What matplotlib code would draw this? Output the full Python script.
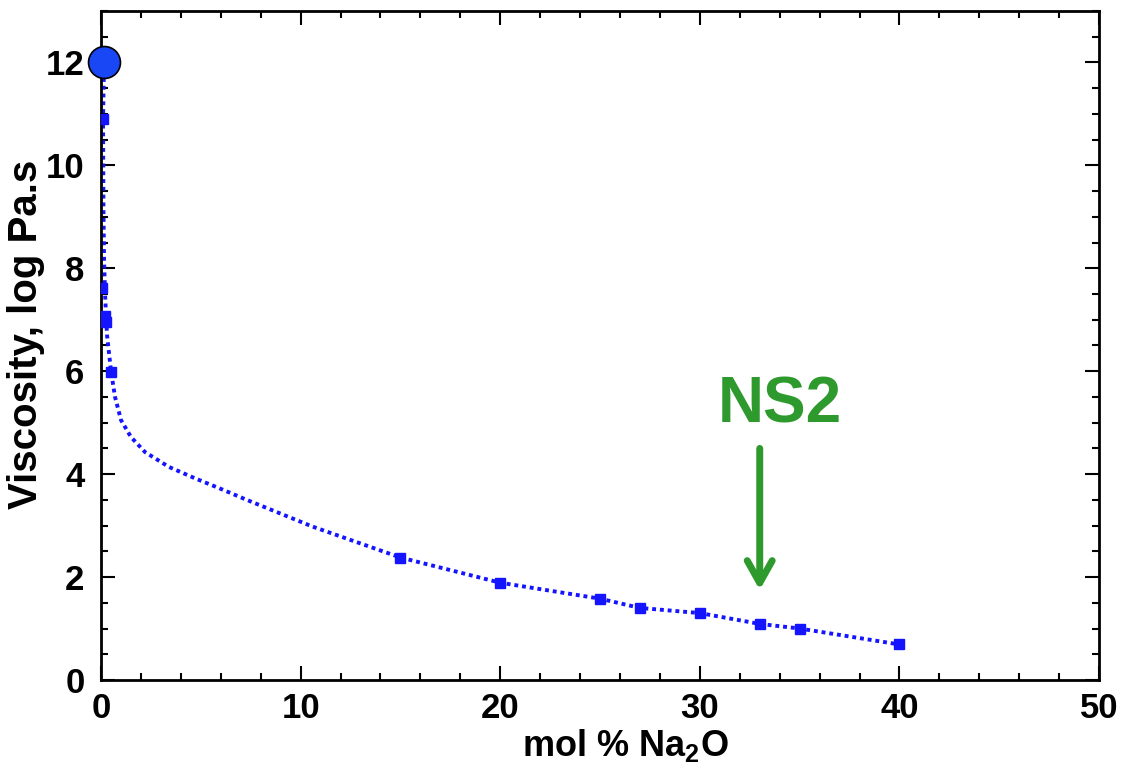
import matplotlib
matplotlib.use("Agg")
import matplotlib.pyplot as plt
from matplotlib.ticker import MultipleLocator

plt.rcParams['font.family'] = ['Liberation Sans', 'DejaVu Sans']
plt.rcParams['font.weight'] = 'bold'
plt.rcParams['mathtext.fontset'] = 'custom'
plt.rcParams['mathtext.rm'] = 'Liberation Sans:bold'
plt.rcParams['mathtext.bf'] = 'Liberation Sans:bold'
plt.rcParams['mathtext.default'] = 'bf'

# measured points (squares)
meas_x = [0.1, 0.07, 0.2, 0.25, 0.5, 15, 20, 25, 27, 30, 33, 35, 40]
meas_y = [10.9, 7.62, 7.08, 6.96, 5.98, 2.38, 1.89, 1.58, 1.40, 1.30, 1.09, 1.00, 0.69]

# dotted trend curve
curve_x = [0.15, 0.1, 0.12, 0.15, 0.2, 0.3, 0.5, 0.7, 1.0, 1.5, 2.2, 3.4, 4.7, 5.9, 7.3,
           10.6, 15, 20, 25, 27, 30, 33, 35, 40]
curve_y = [12.0, 10.9, 9.2, 8.2, 7.5, 6.7, 6.0, 5.5, 5.05, 4.72, 4.43, 4.14, 3.92, 3.73, 3.50,
           2.98, 2.38, 1.89, 1.58, 1.40, 1.30, 1.09, 1.00, 0.69]

# pure SiO2 point (big circle)
glass_x = [0.15]
glass_y = [12.0]

ns2_x = 33
ns2_label = "NS2"

fig = plt.figure(figsize=(11.24, 7.79), dpi=100)
ax = fig.add_axes([0.0899, 0.1271, 0.8879, 0.8588])

ax.plot(curve_x, curve_y, color='#1414ff', lw=2.8, linestyle=(0, (1, 1)), zorder=2)
ax.plot(meas_x, meas_y, linestyle='none', marker='s', ms=6.5, color='#1414ff', zorder=3)
ax.plot(glass_x, glass_y, linestyle='none', marker='o', ms=23, markerfacecolor='#1a47f5',
        markeredgecolor='black', markeredgewidth=1.2, zorder=4, clip_on=False)

ax.set_xlim(0, 50)
ax.set_ylim(0, 13)
ax.xaxis.set_major_locator(MultipleLocator(10))
ax.xaxis.set_minor_locator(MultipleLocator(2))
ax.yaxis.set_major_locator(MultipleLocator(2))
ax.yaxis.set_minor_locator(MultipleLocator(0.5))

ax.tick_params(which='both', direction='in', top=True, right=True, width=1.5, colors='black')
ax.tick_params(which='major', length=10, labelsize=25)
ax.tick_params(which='minor', length=5)
ax.tick_params(axis='x', which='major', pad=9)
ax.tick_params(axis='y', which='major', pad=12)
for lab in ax.get_xticklabels() + ax.get_yticklabels():
    lab.set_fontweight('bold')
for sp in ax.spines.values():
    sp.set_linewidth(2)

ax.set_xlabel('mol % Na$_{2}$O', fontsize=26, fontweight='bold')
ax.xaxis.set_label_coords(0.525, -0.07)
ax.set_ylabel('Viscosity, log Pa.s', fontsize=29, fontweight='bold')
ax.yaxis.set_label_coords(-0.056, 0.516)

green = '#2e9a2e'
ax.text(34.0, 5.34, ns2_label, fontsize=46, fontweight='bold', color=green,
        ha='center', va='center')
ax.annotate('', xy=(ns2_x, 1.75), xytext=(ns2_x, 4.5),
            arrowprops=dict(arrowstyle='->,head_length=1.6,head_width=0.9', color=green,
                            lw=5, shrinkA=0, shrinkB=0))

fig.savefig('out.png', dpi=100, facecolor='white')
